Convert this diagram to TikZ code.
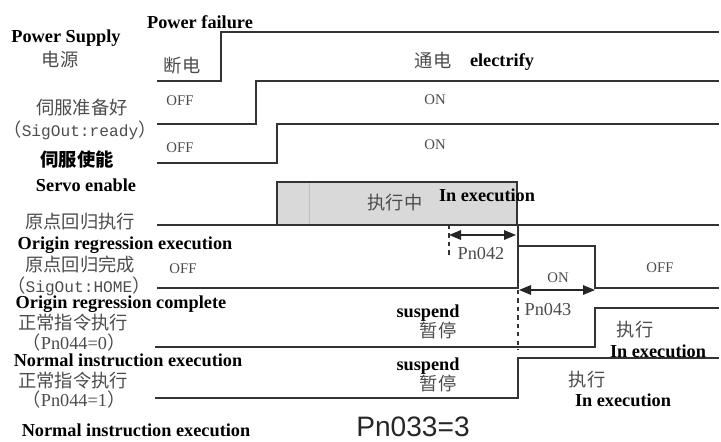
\documentclass[tikz,border=0pt]{standalone}
\usepackage{fontspec}
\setmainfont{Liberation Serif}
\setmonofont{Liberation Mono}
\newfontfamily\cjk{Noto Sans CJK SC}
\newfontfamily\pnsans{Liberation Sans}
\usetikzlibrary{arrows.meta}

\begin{document}
\begin{tikzpicture}[x=0.025cm,y=-0.025cm,
  wave/.style={line width=0.9pt,black!80},
  en/.style={font=\fontsize{13}{15}\selectfont\bfseries,inner sep=0pt},
  zh/.style={font=\fontsize{13}{15}\selectfont\cjk,text=black!70,inner sep=0pt},
  lvl/.style={font=\fontsize{10.5}{12}\selectfont,text=black!70,inner sep=0pt},
  dimarr/.style={line width=0.9pt,black!85,{Triangle[length=3mm,width=2.4mm]}-{Triangle[length=3mm,width=2.4mm]}}]
  \useasboundingbox (0,0) rectangle (721,441);
  % waveforms
  \draw[wave] (157,81) -- (221,81) -- (221,32) -- (719,32);
  \draw[wave] (157,124) -- (256,124) -- (256,81) -- (719,81);
  \draw[wave] (157,163) -- (277,163) -- (277,124) -- (719,124);
  \filldraw[wave,fill=black!15] (277,225) rectangle (517,182);
  \draw[black!25] (309,183) -- (309,224);
  \draw[wave] (157,225) -- (719,225);
  \draw[wave] (157,288) -- (518,288) -- (518,246) -- (595,246) -- (595,288) -- (719,288);
  \draw[wave] (518,225) -- (518,246);
  \draw[wave] (155,347) -- (595,347) -- (595,308) -- (719,308);
  \draw[wave] (155,398) -- (518,398) -- (518,358) -- (719,358);
  % delays
  \coordinate (t42a) at (449,235); \coordinate (t42b) at (516,235);
  \coordinate (t43a) at (519,290); \coordinate (t43b) at (595,290);
  \draw[wave,dashed] (449,225) -- (449,258);
  \draw[wave,dashed] (518,290) -- (518,350);
  \draw[dimarr] (t42a) -- (t42b);
  \draw[dimarr] (t43a) -- (t43b);
  \node[lvl,font=\fontsize{13}{15}\selectfont] (pn42) at (481,254) {Pn042};
  \node[lvl,font=\fontsize{13}{15}\selectfont] (pn43) at (548,310) {Pn043};
  % signal names
  \node[en] (pfail) at (200,22) {Power failure};
  \node[en] (psup) at (66,38) {Power Supply};
  \node[zh] (psupz) at (60,60) {电源};
  \node[zh,font=\fontsize{13}{15}\selectfont\cjk\bfseries,text=black] (enz) at (77,160) {伺服使能};
  \foreach \x/\y/\t [count=\i] in {82/108/伺服准备好, 80/222/原点回归执行, 80/265/原点回归完成,
      73/323/正常指令执行, 73/381/正常指令执行}
    \node[zh] (namez\i) at (\x,\y) {\t};
  \foreach \x/\y/\t [count=\i] in {86/185/Servo enable, 125/245/Origin regression execution,
      121/304/Origin regression complete, 128/360/Normal instruction execution,
      136/430/Normal instruction execution}
    \node[en] (name\i) at (\x,\y) {\t};
  \node[zh] (rdy) at (80,130) {（\texttt{\fontsize{11.5}{13}\selectfont SigOut:ready}）};
  \node[zh] (home) at (79,286) {（\texttt{\fontsize{11.5}{13}\selectfont SigOut:HOME}）};
  \node[zh] (p44a) at (74,343) {（{\rmfamily Pn044=0}）};
  \node[zh] (p44b) at (74,400) {（{\rmfamily Pn044=1}）};
  % levels
  \foreach \x/\y/\t [count=\i] in {180/101/OFF, 435/100/ON, 180/148/OFF, 435/145/ON,
      183/269/OFF, 558/278/ON, 660/268/OFF}
    \node[lvl] (lv\i) at (\x,\y) {\t};
  \node[zh] (offz) at (182,66) {断电};
  \node[zh] (onz) at (433,60) {通电};
  \node[en] (one) at (502,62) {electrify};
  \node[zh] (runz) at (395,203) {执行中};
  \node[en] (run) at (487,195) {In execution};
  \node[en] (sus1) at (428,313) {suspend};
  \node[zh] (sus1z) at (438,330) {暂停};
  \node[en] (sus2) at (428,366) {suspend};
  \node[zh] (sus2z) at (438,383) {暂停};
  \node[zh] (ex1z) at (635,330) {执行};
  \node[en] (ex1) at (658,351) {In execution};
  \node[zh] (ex2z) at (587,380) {执行};
  \node[en] (ex2) at (623,400) {In execution};
  \node[font=\fontsize{20}{24}\selectfont\pnsans,text=black!85,inner sep=0pt] (pn33) at (413,427) {Pn033=3};
\end{tikzpicture}
\end{document}
